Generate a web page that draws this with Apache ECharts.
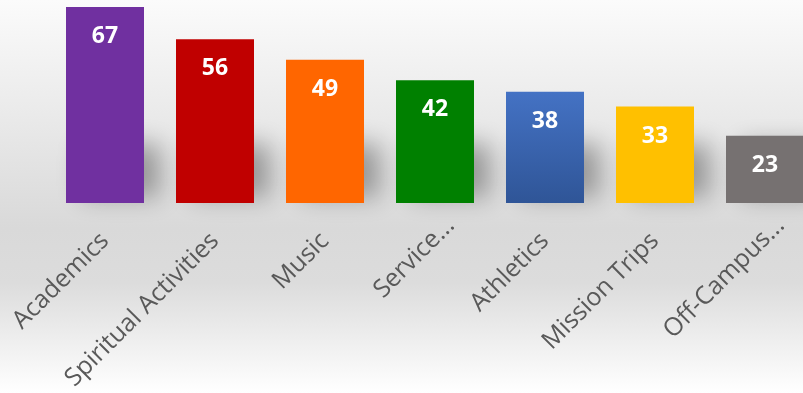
<!DOCTYPE html>
<html><head><meta charset="utf-8">
<script src="https://cdn.jsdelivr.net/npm/echarts@6/dist/echarts.min.js"></script>
<style>html,body{margin:0;padding:0;overflow:hidden;width:803px;height:393px;}#c{width:820px;height:393px;}</style>
</head><body><div id="c"></div>
<script>
const categories = ['Academics','Spiritual Activities','Music','Service...','Athletics','Mission Trips','Off-Campus...'];
const values = [67,56,49,42,38,33,23];
const colors = ['#7030a0','#c00000','#ff6600','#008000',
  {type:'linear',x:0,y:0,x2:0,y2:1,colorStops:[{offset:0,color:'#4472c4'},{offset:1,color:'#2f5597'}]},
  '#ffc000','#767171'];
const shadowHeight = 18;

const chart = echarts.init(document.getElementById('c'));
chart.setOption({
  animation:false,
  backgroundColor:{type:'linear',x:0,y:0,x2:0,y2:1,colorStops:[
    {offset:0,color:'#fbfbfb'},{offset:0.58,color:'#d9d9d9'},{offset:0.72,color:'#dcdcdc'},{offset:1,color:'#ffffff'}]},
  grid:{left:50,right:0,top:7,bottom:190,containLabel:false,outerBoundsMode:'none'},
  xAxis:{type:'category',
    data:categories.map(c=>c.endsWith('...')?{value:c,textStyle:{padding:[0,-22,0,0]}}:c),
    axisLine:{show:false},axisTick:{show:false},
    axisLabel:{rotate:45,margin:34,fontSize:25,color:'#595959',fontFamily:'Open Sans',interval:0}},
  yAxis:{type:'value',min:0,max:67,show:false,splitLine:{show:false}},
  series:[
    {type:'bar',barWidth:78,barGap:'-100%',z:1,silent:true,
     data:values.map((v,i)=>({value:Math.min(v,shadowHeight),itemStyle:{color:'#999'}})),
     itemStyle:{shadowColor:'rgba(0,0,0,0.33)',shadowBlur:24,shadowOffsetX:16,shadowOffsetY:-6}},
    {type:'bar',barWidth:78,z:2,
     data:values.map((v,i)=>({value:v,itemStyle:{color:colors[i]}})),
     label:{show:true,position:'insideTop',distance:18,color:'#fff',fontWeight:'bold',fontSize:23,fontFamily:'Open Sans'}}
  ]
});
</script></body></html>
